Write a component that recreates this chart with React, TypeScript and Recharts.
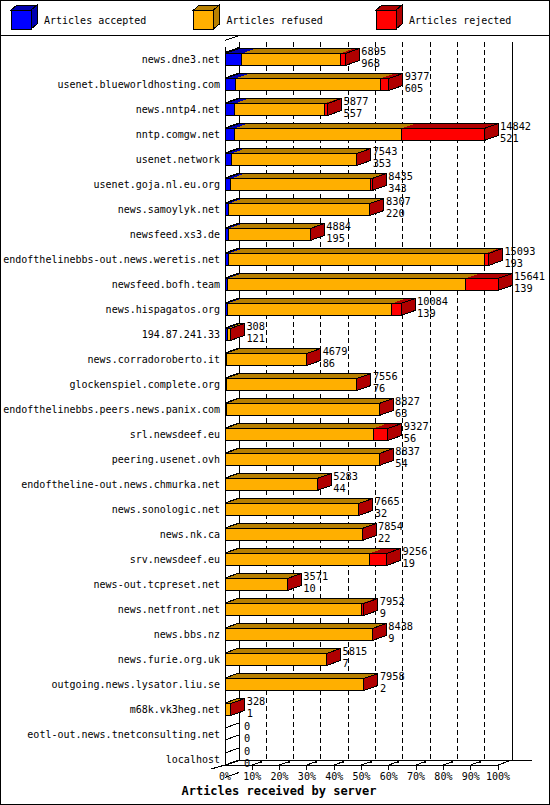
import React from "react";
import { Bar, BarChart, CartesianGrid, XAxis, YAxis } from "recharts";

const hosts = [
  "news.dne3.net",
  "usenet.blueworldhosting.com",
  "news.nntp4.net",
  "nntp.comgw.net",
  "usenet.network",
  "usenet.goja.nl.eu.org",
  "news.samoylyk.net",
  "newsfeed.xs3.de",
  "endofthelinebbs-out.news.weretis.net",
  "newsfeed.bofh.team",
  "news.hispagatos.org",
  "194.87.241.33",
  "news.corradoroberto.it",
  "glockenspiel.complete.org",
  "endofthelinebbs.peers.news.panix.com",
  "srl.newsdeef.eu",
  "peering.usenet.ovh",
  "endoftheline-out.news.chmurka.net",
  "news.sonologic.net",
  "news.nk.ca",
  "srv.newsdeef.eu",
  "news-out.tcpreset.net",
  "news.netfront.net",
  "news.bbs.nz",
  "news.furie.org.uk",
  "outgoing.news.lysator.liu.se",
  "m68k.vk3heg.net",
  "eotl-out.news.tnetconsulting.net",
  "localhost",
];

// printed next to each bar: total on top, accepted below
const totals = [
  6895, 9377, 5877, 14842, 7543, 8435, 8307, 4884, 15093, 15641, 10084, 308, 4679, 7556, 8827,
  9327, 8837, 5283, 7665, 7854, 9256, 3571, 7952, 8438, 5815, 7958, 328, 0, 0,
];
const accepted = [
  968, 605, 557, 521, 353, 343, 220, 195, 193, 139, 139, 121, 86, 76, 63, 56, 54, 44, 32, 22, 19,
  10, 9, 9, 7, 2, 1, 0, 0,
];
const refused = [
  5627, 8302, 5140, 9581, 7190, 7982, 8087, 4689, 14700, 13652, 9415, 187, 4593, 7480, 8764, 8441,
  8783, 5239, 7633, 7832, 8247, 3561, 7793, 8429, 5808, 7956, 327, 0, 0,
];
const rejected = [
  300, 470, 180, 4740, 0, 110, 0, 0, 200, 1850, 530, 0, 0, 0, 0, 830, 0, 0, 0, 0, 990, 0, 150, 0, 0,
  0, 0, 0, 0,
];

const seriesKeys = ["accepted", "refused", "rejected"];
const seriesNames = ["Articles accepted", "Articles refused", "Articles rejected"];
const pctTicks = [0, 10, 20, 30, 40, 50, 60, 70, 80, 90, 100];

const data = hosts.map((host, i) => ({
  host,
  total: totals[i],
  accepted: accepted[i],
  refused: refused[i],
  rejected: rejected[i],
}));
const maxTotal = Math.max(...totals);
const tickValues = pctTicks.map((p) => (p / 100) * maxTotal);

const FONT = "'DejaVu Sans Mono', 'Liberation Mono', monospace";
const COLORS = [
  { front: "#0000ff", dark: "#0000b0" },
  { front: "#ffaf00", dark: "#b88000" },
  { front: "#ff0000", dark: "#b00000" },
];
const DX = 14;
const DY = 5;
const LEFT = 225;
const RIGHT = 498;
const WALL_TOP = 41.5;
const FLOOR_FRONT = 765;
const FLOOR_BACK = 760;

function makeSegment(k: number) {
  return function Segment(props: any) {
    const { x, y, height, payload } = props;
    const w = Math.max(0, props.width || 0);
    const end = x + w;
    const c = COLORS[k];
    const hasBar = payload.total > 0;
    const cy = y + height / 2;
    return (
      <g>
        {hasBar && (
          <>
            <polygon
              points={`${x},${y} ${x + DX},${y - DY} ${end + DX},${y - DY} ${end},${y}`}
              fill={c.dark}
            />
            <line x1={x + DX} y1={y - DY} x2={end + DX} y2={y - DY} stroke="#000" />
            {k === 0 && <line x1={x} y1={y} x2={x + DX} y2={y - DY} stroke="#000" />}
            {w > 0 && <rect x={x} y={y} width={w} height={height} fill={c.front} stroke="#000" />}
            {k === 2 && (
              <polygon
                points={`${end},${y} ${end + DX},${y - DY} ${end + DX},${y + height - DY} ${end},${y + height}`}
                fill={c.dark}
                stroke="#000"
              />
            )}
          </>
        )}
        {k === 2 && (
          <g fontFamily={FONT} fontSize={10.3} fill="#000" style={{ shapeRendering: "auto" }}>
            <text x={end + (hasBar ? 16 : 19)} y={cy - 5}>
              {payload.total}
            </text>
            <text x={end + (hasBar ? 16 : 19)} y={cy + 7}>
              {payload.accepted}
            </text>
          </g>
        )}
      </g>
    );
  };
}

const segments = [makeSegment(0), makeSegment(1), makeSegment(2)];

function HostTick(props: any) {
  return (
    <text x={props.x} y={props.y} dy={3.5} textAnchor="end" fontFamily={FONT} fontSize={10} fill="#000">
      {props.payload.value}
    </text>
  );
}

function PctTick(props: any) {
  const { x, index } = props;
  return (
    <g>
      {index === 0 ? (
        <line x1={x - 14} y1={FLOOR_FRONT + 4} x2={x} y2={FLOOR_FRONT} stroke="#000" />
      ) : (
        <>
          <line x1={x} y1={FLOOR_FRONT} x2={x} y2={FLOOR_FRONT + 5} stroke="#000" />
          {index < pctTicks.length - 1 && (
            <>
              <line x1={x} y1={FLOOR_FRONT} x2={x + 8} y2={FLOOR_FRONT - 3} stroke="#000" />
              <rect x={x + 8} y={FLOOR_FRONT - 4} width={2} height={2} fill="#000" />
            </>
          )}
        </>
      )}
      <text x={x} y={780} textAnchor="middle" fontFamily={FONT} fontSize={10} fill="#000">
        {pctTicks[index]}%
      </text>
    </g>
  );
}

function BackWall(props: any) {
  const x = props.x1;
  const atLeft = Math.abs(x - LEFT) < 0.5;
  const atRight = Math.abs(x - RIGHT) < 0.5;
  return (
    <g stroke="#000">
      <line
        x1={x + DX}
        y1={WALL_TOP}
        x2={x + DX}
        y2={FLOOR_BACK}
        strokeDasharray={atLeft || atRight ? undefined : "5 3"}
      />
      {atLeft && (
        <>
          <line x1={x} y1={props.y1} x2={x} y2={FLOOR_FRONT} />
          <line x1={x} y1={FLOOR_FRONT} x2={RIGHT} y2={FLOOR_FRONT} />
          <line x1={x + DX} y1={FLOOR_BACK} x2={RIGHT + DX + 20} y2={FLOOR_BACK} />
          <line x1={x} y1={FLOOR_FRONT} x2={x + DX} y2={FLOOR_BACK} />
        </>
      )}
      {atRight && <line x1={x} y1={FLOOR_FRONT} x2={x + DX} y2={FLOOR_BACK} />}
    </g>
  );
}

function RowTick(props: any) {
  const y = props.y1;
  return (
    <g stroke="#000">
      <line x1={LEFT} y1={y - 6} x2={LEFT + DX} y2={y - 6 - DY} />
      <line x1={LEFT} y1={y + 6} x2={LEFT + DX} y2={y + 6 - DY} />
    </g>
  );
}

function Overlay() {
  return (
    <svg
      width={550}
      height={805}
      style={{ position: "absolute", left: 0, top: 0, pointerEvents: "none", shapeRendering: "crispEdges" }}
    >
      <rect x={0.5} y={0.5} width={549} height={804} fill="none" stroke="#000" />
      <line x1={0} y1={35.5} x2={550} y2={35.5} stroke="#000" />
      {seriesNames.map((name, i) => {
        const x = 11 + i * 182.5;
        const c = COLORS[i];
        return (
          <g key={name}>
            <polygon points={`${x},10 ${x + 6},5 ${x + 26},5 ${x + 20},10`} fill={c.dark} stroke="#000" />
            <polygon points={`${x + 20},10 ${x + 26},5 ${x + 26},24 ${x + 20},29`} fill={c.dark} stroke="#000" />
            <rect x={x} y={10} width={20} height={19} fill={c.front} stroke="#000" />
            <text x={x + 33} y={24} fontFamily={FONT} fontSize={10} fill="#000" style={{ shapeRendering: "auto" }}>
              {name}
            </text>
          </g>
        );
      })}
      <text
        x={279}
        y={795}
        textAnchor="middle"
        fontFamily={FONT}
        fontSize={12}
        fontWeight="bold"
        fill="#000"
      >
        Articles received by server
      </text>
    </svg>
  );
}

export default function App() {
  return (
    <div style={{ position: "absolute", left: 0, top: 0, width: 550, height: 805, background: "#fff" }}>
      <BarChart
        width={550}
        height={805}
        data={data}
        layout="vertical"
        barSize={12}
        margin={{ top: 46.5, right: 52, bottom: 0, left: 0 }}
        style={{ shapeRendering: "crispEdges" }}
      >
        <CartesianGrid vertical={BackWall} horizontal={RowTick} />
        <XAxis
          type="number"
          domain={[0, maxTotal]}
          ticks={tickValues}
          interval={0}
          axisLine={false}
          tickLine={false}
          height={33.5}
          tick={PctTick}
        />
        <YAxis
          type="category"
          dataKey="host"
          width={225}
          interval={0}
          axisLine={false}
          tickLine={false}
          tickSize={0}
          tickMargin={5}
          tick={HostTick}
        />
        {seriesKeys.map((key, k) => (
          <Bar key={key} dataKey={key} stackId="s" shape={segments[k]} isAnimationActive={false} />
        ))}
      </BarChart>
      <Overlay />
    </div>
  );
}
